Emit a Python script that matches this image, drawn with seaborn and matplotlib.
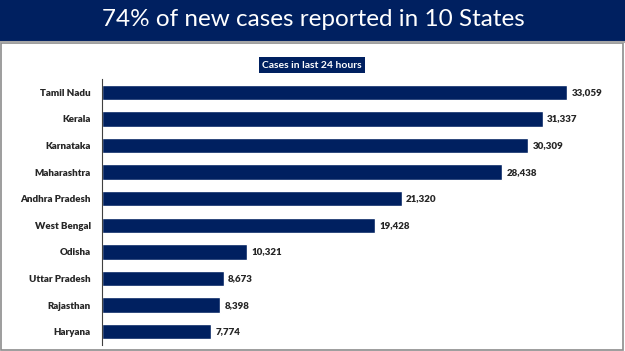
"""
Horizontal bar chart: new cases in last 24 hours, top 10 states
"""

## Import packages
import numpy as np
import pandas as pd
import matplotlib.pyplot as plt
import seaborn as sns
from matplotlib.patches import Rectangle


## Data
states = ['Tamil Nadu', 'Kerala', 'Karnataka', 'Maharashtra', 'Andhra Pradesh',
          'West Bengal', 'Odisha', 'Uttar Pradesh', 'Rajasthan', 'Haryana']
cases = [33059, 31337, 30309, 28438, 21320, 19428, 10321, 8673, 8398, 7774]

title = "74% of new cases reported in 10 States"
subtitle = "Cases in last 24 hours"

df = pd.DataFrame({'state': states, 'cases': cases})

navy = '#002060'

## Figure
sns.set_theme(style='white')
plt.rcParams['font.family'] = ['Lato', 'DejaVu Sans']

fig = plt.figure(figsize=(6.25, 3.51), dpi=100)

# Title banner
fig.patches.append(Rectangle((0, 1 - 41/351), 1, 41/351, transform=fig.transFigure,
                             facecolor=navy, edgecolor='none', zorder=0))
fig.lines.append(plt.Line2D([0, 1], [1 - 42/351, 1 - 42/351], transform=fig.transFigure,
                            color='#a6a6a6', lw=1.5))
fig.text(313/625, 1 - 20/351, title, color='white', fontsize=17.5,
         ha='center', va='center')

# Frame around slide
fig.patches.append(Rectangle((0.002, 0.004), 0.994, 1 - 43/351 - 0.004,
                             transform=fig.transFigure, facecolor='none',
                             edgecolor='#8c8c8c', lw=1.2))

# Subtitle box
fig.text(312/625, 1 - 65/351, subtitle, color='white', fontsize=7.5, fontweight='bold',
         ha='center', va='center',
         bbox=dict(boxstyle='square,pad=0.3', facecolor=navy, edgecolor='none'))

# Bar axes
ax = fig.add_axes([102/625, 6/351, 498/625, (345 - 79)/351])
sns.barplot(ax=ax, data=df, y='state', x='cases', orient='h', color=navy,
            width=0.58, saturation=1)

ax.set_xlim(0, 35400)
ax.set_ylim(len(states) - 0.5, -0.5)
ax.set_xlabel('')
ax.set_ylabel('')
ax.set_xticks([])

for s in ['top', 'right', 'bottom']:
    ax.spines[s].set_visible(False)
ax.spines['left'].set_color('#404040')
ax.spines['left'].set_linewidth(0.8)

# Tick marks between categories, labels at centres
ax.set_yticks(np.arange(len(states)))
ax.set_yticklabels(states, fontsize=7, fontweight='heavy')
ax.tick_params(axis='y', which='major', length=0, pad=8)
ax.set_yticks(np.arange(len(states) + 1) - 0.5, minor=True)
ax.tick_params(axis='y', which='minor', length=3, width=0.8, color='#404040')

# Value labels
for i, v in enumerate(cases):
    ax.text(v + 300, i, f"{v:,}", va='center', ha='left', fontsize=7, fontweight='heavy')

plt.savefig('out.png', dpi=100)
